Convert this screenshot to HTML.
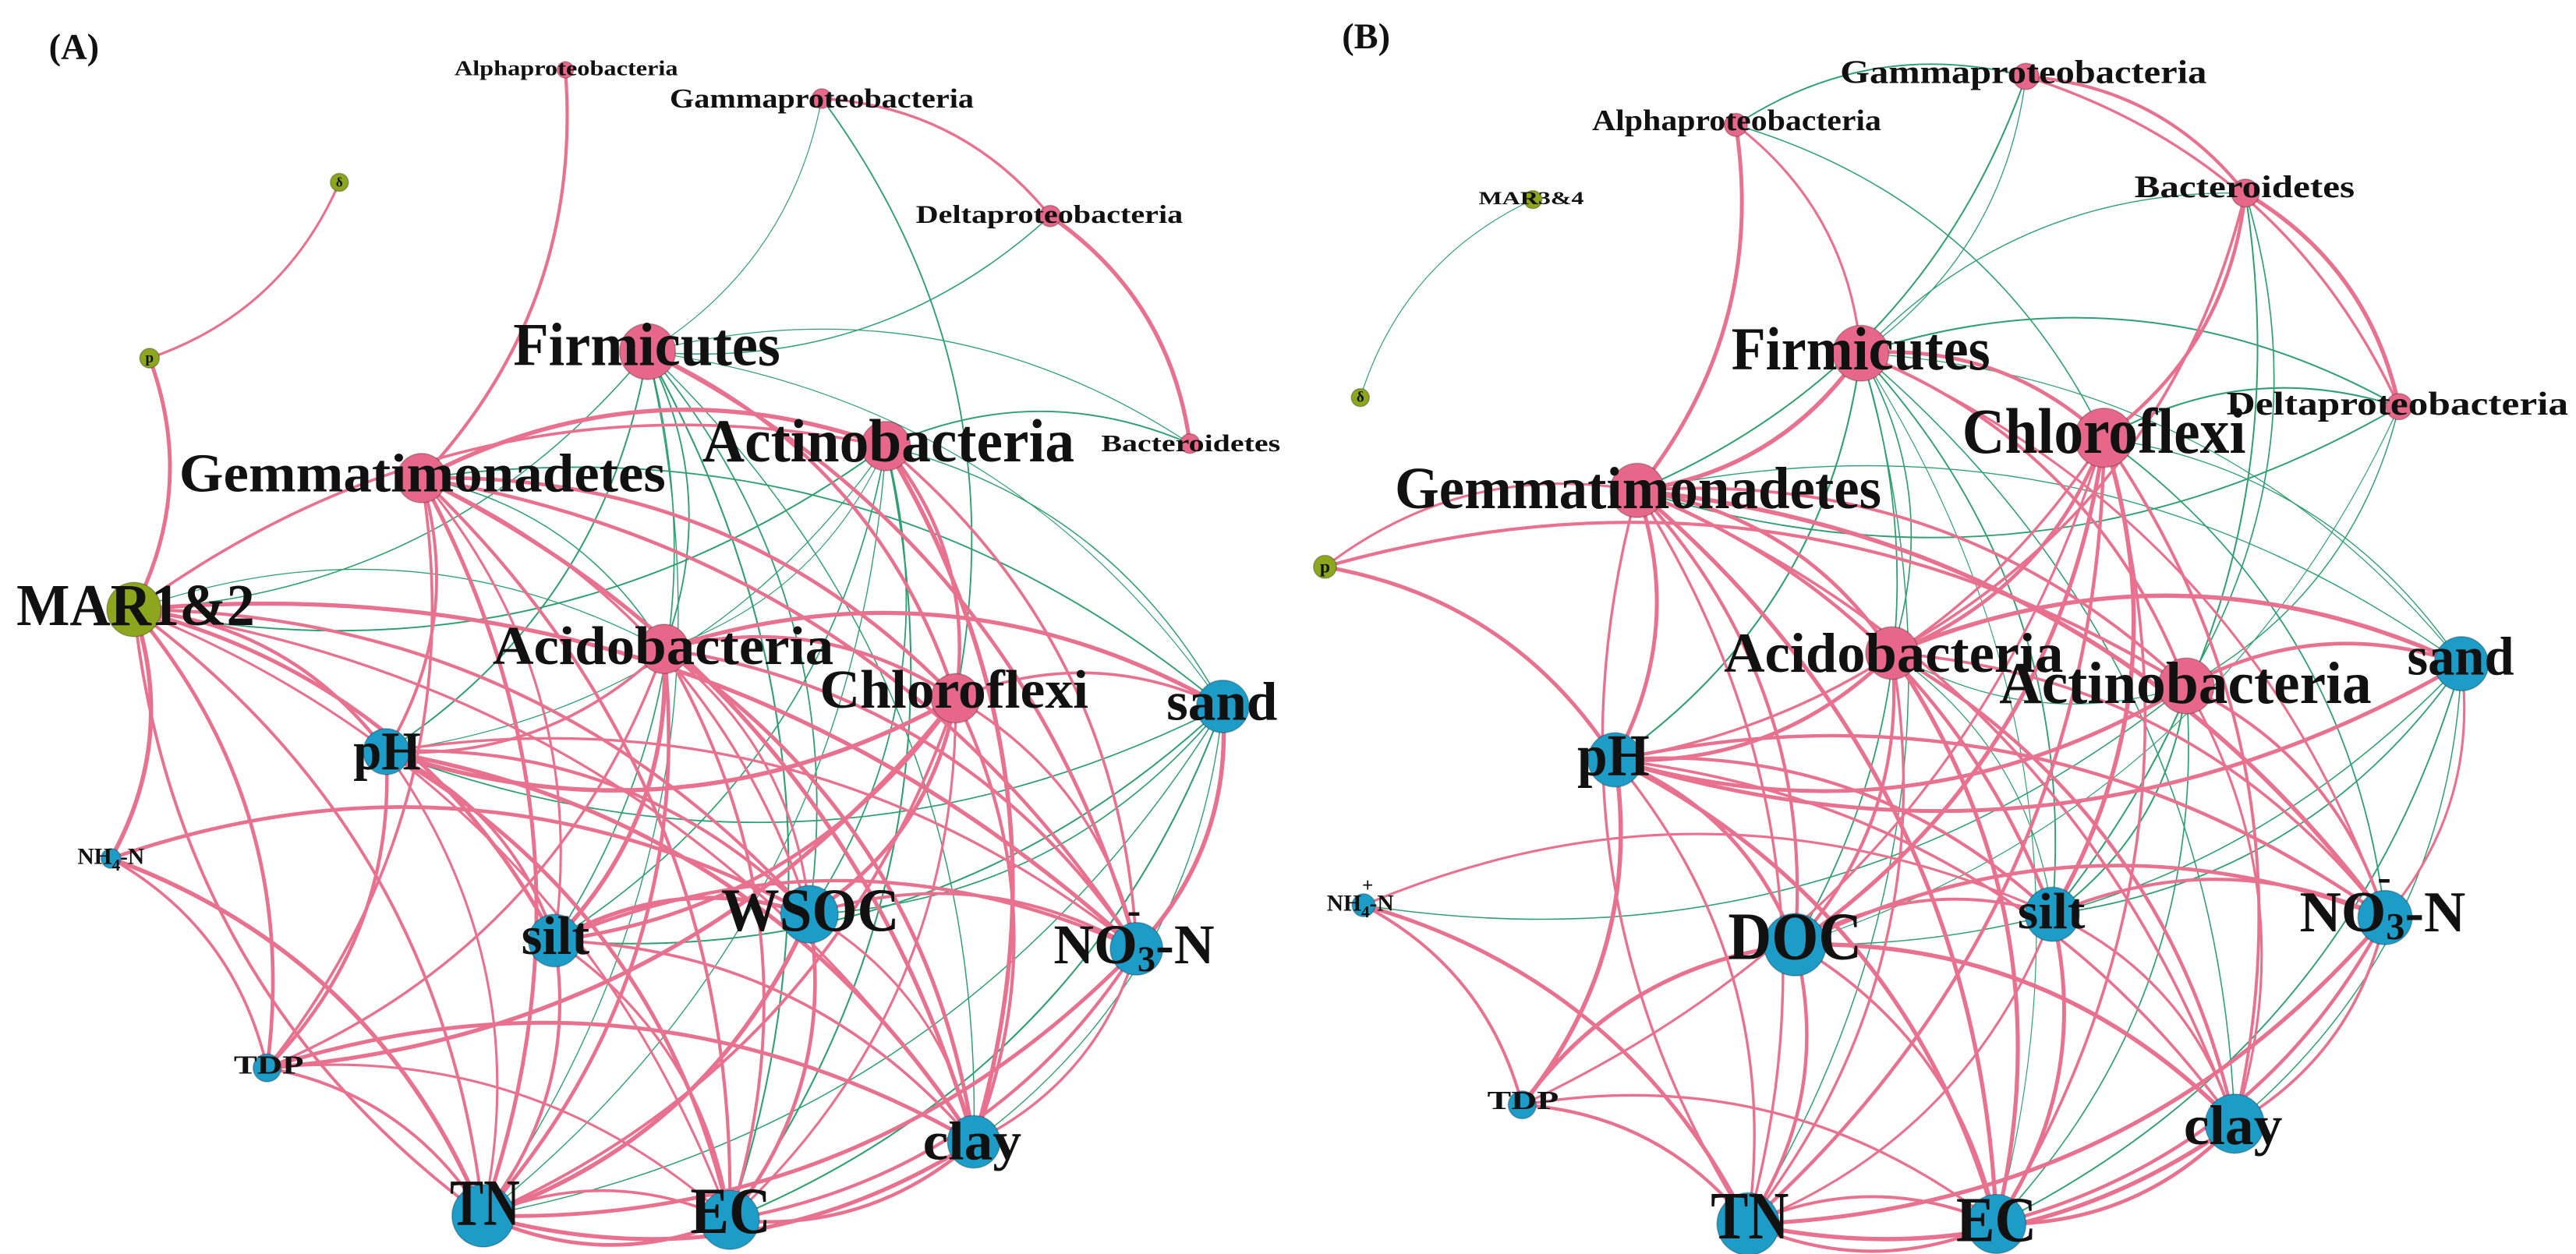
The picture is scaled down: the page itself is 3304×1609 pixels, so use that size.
<!DOCTYPE html>
<html><head><meta charset="utf-8">
<style>
html,body{margin:0;padding:0;background:#fff;}
svg{display:block;}
text{font-family:"Liberation Serif",serif;font-weight:bold;fill:#111;text-anchor:middle;dominant-baseline:central;}
</style></head>
<body>
<svg id="s" width="3304" height="1609" viewBox="0 0 3304 1609" xmlns="http://www.w3.org/2000/svg">
<rect width="3304" height="1609" fill="#fff"/>
<g id="A" transform="scale(1.054)">
  <g id="Ae"></g><g id="An"></g>
  <g>
    <text x="90" y="58" font-size="44">(A)</text>
    <text x="689" y="83" font-size="26" textLength="272" lengthAdjust="spacingAndGlyphs">Alphaproteobacteria</text>
    <text x="1000" y="120" font-size="33" textLength="370" lengthAdjust="spacingAndGlyphs">Gammaproteobacteria</text>
    <text x="1277" y="262" font-size="31" textLength="325" lengthAdjust="spacingAndGlyphs">Deltaproteobacteria</text>
    <text x="1449" y="540" font-size="29" textLength="218" lengthAdjust="spacingAndGlyphs">Bacteroidetes</text>
    <text x="413" y="222" font-size="16">δ</text>
    <text x="182" y="436" font-size="18">p</text>
    <text x="787" y="420" font-size="74" textLength="325" lengthAdjust="spacingAndGlyphs">Firmicutes</text>
    <text x="1081" y="537" font-size="74" textLength="453" lengthAdjust="spacingAndGlyphs">Actinobacteria</text>
    <text x="514" y="577" font-size="66" textLength="592" lengthAdjust="spacingAndGlyphs">Gemmatimonadetes</text>
    <text x="165" y="737" font-size="72" textLength="290" lengthAdjust="spacingAndGlyphs">MAR1&amp;2</text>
    <text x="807" y="787" font-size="66" textLength="415" lengthAdjust="spacingAndGlyphs">Acidobacteria</text>
    <text x="1161" y="840" font-size="66" textLength="327" lengthAdjust="spacingAndGlyphs">Chloroflexi</text>
    <text x="1487" y="855" font-size="66" textLength="135" lengthAdjust="spacingAndGlyphs">sand</text>
    <text x="471" y="915" font-size="66" textLength="82" lengthAdjust="spacingAndGlyphs">pH</text>
    <text x="135" y="1043" font-size="28">NH<tspan font-size="20" dy="10">4</tspan><tspan dy="-10">-N</tspan></text>
    <text x="676" y="1140" font-size="66" textLength="83" lengthAdjust="spacingAndGlyphs">silt</text>
    <text x="986" y="1108" font-size="74" textLength="217" lengthAdjust="spacingAndGlyphs">WSOC</text>
    <text x="1380" y="1150" font-size="68">NO<tspan font-size="44" dy="18">3</tspan><tspan dy="-18">-N</tspan></text>
    <text x="1380" y="1108" font-size="50">-</text>
    <text x="327" y="1297" font-size="32" textLength="85" lengthAdjust="spacingAndGlyphs">TDP</text>
    <text x="1183" y="1390" font-size="66" textLength="120" lengthAdjust="spacingAndGlyphs">clay</text>
    <text x="590" y="1465" font-size="80" textLength="85" lengthAdjust="spacingAndGlyphs">TN</text>
    <text x="889" y="1475" font-size="80" textLength="98" lengthAdjust="spacingAndGlyphs">EC</text>
  </g>
</g>
<g id="B" transform="translate(1652,0) scale(1.054)">
  <g id="Be"></g><g id="Bn"></g>
  <g>
    <text x="95" y="45" font-size="44">(B)</text>
    <text x="895" y="88" font-size="40" textLength="446" lengthAdjust="spacingAndGlyphs">Gammaproteobacteria</text>
    <text x="546" y="147" font-size="36" textLength="352" lengthAdjust="spacingAndGlyphs">Alphaproteobacteria</text>
    <text x="1164" y="227" font-size="38" textLength="268" lengthAdjust="spacingAndGlyphs">Bacteroidetes</text>
    <text x="296" y="242" font-size="22" textLength="128" lengthAdjust="spacingAndGlyphs">MAR3&amp;4</text>
    <text x="88" y="484" font-size="18">δ</text>
    <text x="697" y="425" font-size="74" textLength="315" lengthAdjust="spacingAndGlyphs">Firmicutes</text>
    <text x="1350" y="492" font-size="40" textLength="416" lengthAdjust="spacingAndGlyphs">Deltaproteobacteria</text>
    <text x="993" y="525" font-size="78" textLength="345" lengthAdjust="spacingAndGlyphs">Chloroflexi</text>
    <text x="426" y="595" font-size="72" textLength="592" lengthAdjust="spacingAndGlyphs">Gemmatimonadetes</text>
    <text x="45" y="690" font-size="22">p</text>
    <text x="737" y="795" font-size="68" textLength="413" lengthAdjust="spacingAndGlyphs">Acidobacteria</text>
    <text x="1092" y="832" font-size="72" textLength="453" lengthAdjust="spacingAndGlyphs">Actinobacteria</text>
    <text x="1427" y="800" font-size="66" textLength="130" lengthAdjust="spacingAndGlyphs">sand</text>
    <text x="396" y="920" font-size="72" textLength="88" lengthAdjust="spacingAndGlyphs">pH</text>
    <text x="88" y="1100" font-size="28">NH<tspan font-size="20" dy="10">4</tspan><tspan dy="-10">-N</tspan></text>
    <text x="97" y="1078" font-size="24">+</text>
    <text x="617" y="1140" font-size="82" textLength="163" lengthAdjust="spacingAndGlyphs">DOC</text>
    <text x="929" y="1110" font-size="62" textLength="82" lengthAdjust="spacingAndGlyphs">silt</text>
    <text x="1332" y="1110" font-size="70">NO<tspan font-size="46" dy="18">3</tspan><tspan dy="-18">-N</tspan></text>
    <text x="1334" y="1068" font-size="50">-</text>
    <text x="286" y="1340" font-size="32" textLength="87" lengthAdjust="spacingAndGlyphs">TDP</text>
    <text x="1150" y="1370" font-size="68" textLength="120" lengthAdjust="spacingAndGlyphs">clay</text>
    <text x="562" y="1480" font-size="82" textLength="95" lengthAdjust="spacingAndGlyphs">TN</text>
    <text x="862" y="1485" font-size="78" textLength="98" lengthAdjust="spacingAndGlyphs">EC</text>
  </g>
</g>
</svg>
<script>
var PINK='#e8718f',GREEN='#2f9f72',NP='#e7678a',NB='#1c9cc6',NO='#8ea51e';
var A={al:[688,85,10,NP],ga:[1000,120,12,NP],de:[1278,263,13,NP],ba:[1448,540,12,NP],d:[413,222,11,NO],p:[182,436,12,NO],
fi:[788,428,34,NP],ac:[1078,543,30,NP],ge:[513,582,30,NP],ma:[163,742,33,NO],ci:[808,790,30,NP],ch:[1163,850,30,NP],
sa:[1488,860,32,NB],ph:[470,915,28,NB],nh:[135,1045,12,NB],si:[675,1145,32,NB],ws:[985,1113,35,NB],no:[1383,1155,32,NB],
td:[325,1300,17,NB],cl:[1185,1390,32,NB],tn:[588,1480,38,NB],ec:[888,1485,36,NB]};
var B={ga:[898,93,16,NP],al:[545,152,14,NP],ba:[1165,235,17,NP],m:[298,243,11,NO],d:[88,484,11,NO],fi:[697,430,34,NP],
de:[1352,495,16,NP],ch:[993,533,36,NP],ge:[425,597,33,NP],p:[45,690,14,NO],ci:[735,795,32,NP],ac:[1093,835,34,NP],
sa:[1428,808,33,NB],ph:[398,925,33,NB],nh:[92,1102,14,NB],dc:[617,1150,38,NB],si:[930,1113,33,NB],no:[1335,1117,33,NB],
td:[285,1345,17,NB],cl:[1152,1368,36,NB],tn:[560,1490,38,NB],ec:[862,1490,36,NB]};
var Ap="d-p p-ma al-ge ga-de de-ba fi-ch ma-ac ge-ac ge-ch ge-ph ge-si ge-tn ge-ec ge-ws ge-cl ge-no ge-td ma-nh ma-td ma-tn ma-ec ma-si ma-ws ma-cl ma-no ma-ph ci-ph ci-si ci-tn ci-ec ci-ws ci-cl ci-no ci-td ci-sa ci-ch ch-sa ch-ph ch-si ch-tn ch-ec ch-ws ch-cl ch-no ch-td ac-ch ac-no ac-cl fi-no ph-si ph-tn ph-ec ph-ws ph-no ph-cl ph-td nh-td nh-tn nh-ws td-tn td-ec td-cl si-tn si-ec si-ws si-no si-cl ws-tn ws-ec ws-no ws-cl no-tn no-ec no-cl cl-tn cl-ec tn-ec sa-no tn~ec ma~tn";
var Ag="ga-fi ga-ch de-fi fi-ba fi-ph fi-si fi-tn fi-ec fi-ws fi-cl fi-sa fi-ci fi-ma ac-ph ac-ma ac-si ac-tn ac-ec ac-ws ac-sa ac-ci ge-sa ge-ci ma-ci sa-si sa-ws sa-cl sa-ec sa-ph sa-tn ma-ph ac-ba";
var Bp="al-fi al-ge ga-ba ga-de ba-de ba-ch ba-ci fi-ge fi-ch fi-ac fi-no ge-ph ge-dc ge-tn ge-ec ge-si ge-cl ge-no ge-ci ge-ac p-ge p-ph p-ac ch-ph ch-dc ch-tn ch-ec ch-si ch-ci ch-cl ch-td ci-ph ci-dc ci-tn ci-ec ci-cl ci-no ci-sa ac-sa ac-no ac-cl ac-ph ph-si ph-tn ph-ec ph-no ph-cl ph-td ph-dc nh-td nh-si nh-tn td-tn td-ec td-dc dc-tn dc-ec dc-cl dc-no dc-si si-tn si-ec si-no si-cl no-tn no-ec no-cl cl-tn cl-ec tn-ec sa-no sa-ph tn~ec ge~tn";
var Bg="m~d al-ga al-ch ga-fi ga-ge ga-de fi-ba fi-ph fi-dc fi-tn fi-ec fi-si fi-cl fi-sa fi-de fi-ci ch-sa ch-de ch-no de-ac de-dc de-ge ac-nh ac-ci ac-si ac-ec ge-sa p-ge sa-si sa-cl sa-no sa-ec sa-dc ci-si ba-si ba-ac";
var NS='http://www.w3.org/2000/svg';
function draw(N,eg,pink,green,ng){
  function add(list,col,w){
    list.split(' ').forEach(function(e,i){
      var f=e.indexOf('~')>=0, k=e.split(/[-~]/), a=N[k[0]], b=N[k[1]]; if(!a||!b)return;
      var dx=b[0]-a[0],dy=b[1]-a[1],s=f?-0.22:0.22;
      var cx=(a[0]+b[0])/2+dy*s, cy=(a[1]+b[1])/2-dx*s;
      var p=document.createElementNS(NS,'path');
      p.setAttribute('d','M'+a[0]+','+a[1]+' Q'+cx+','+cy+' '+b[0]+','+b[1]);
      p.setAttribute('fill','none');p.setAttribute('stroke',col);
      p.setAttribute('stroke-width',w*(0.7+0.6*((i*37)%10)/10));
      eg.appendChild(p);
    });
  }
  add(green,GREEN,1.6); add(pink,PINK,4.2);
  for(var k in N){var n=N[k];var c=document.createElementNS(NS,'circle');
    c.setAttribute('cx',n[0]);c.setAttribute('cy',n[1]);c.setAttribute('r',n[2]);
    c.setAttribute('fill',n[3]);c.setAttribute('stroke','rgba(0,0,0,0.25)');c.setAttribute('stroke-width',1.5);ng.appendChild(c);}
}
draw(A,document.getElementById('Ae'),Ap,Ag,document.getElementById('An'));
draw(B,document.getElementById('Be'),Bp,Bg,document.getElementById('Bn'));
</script>
</body></html>
